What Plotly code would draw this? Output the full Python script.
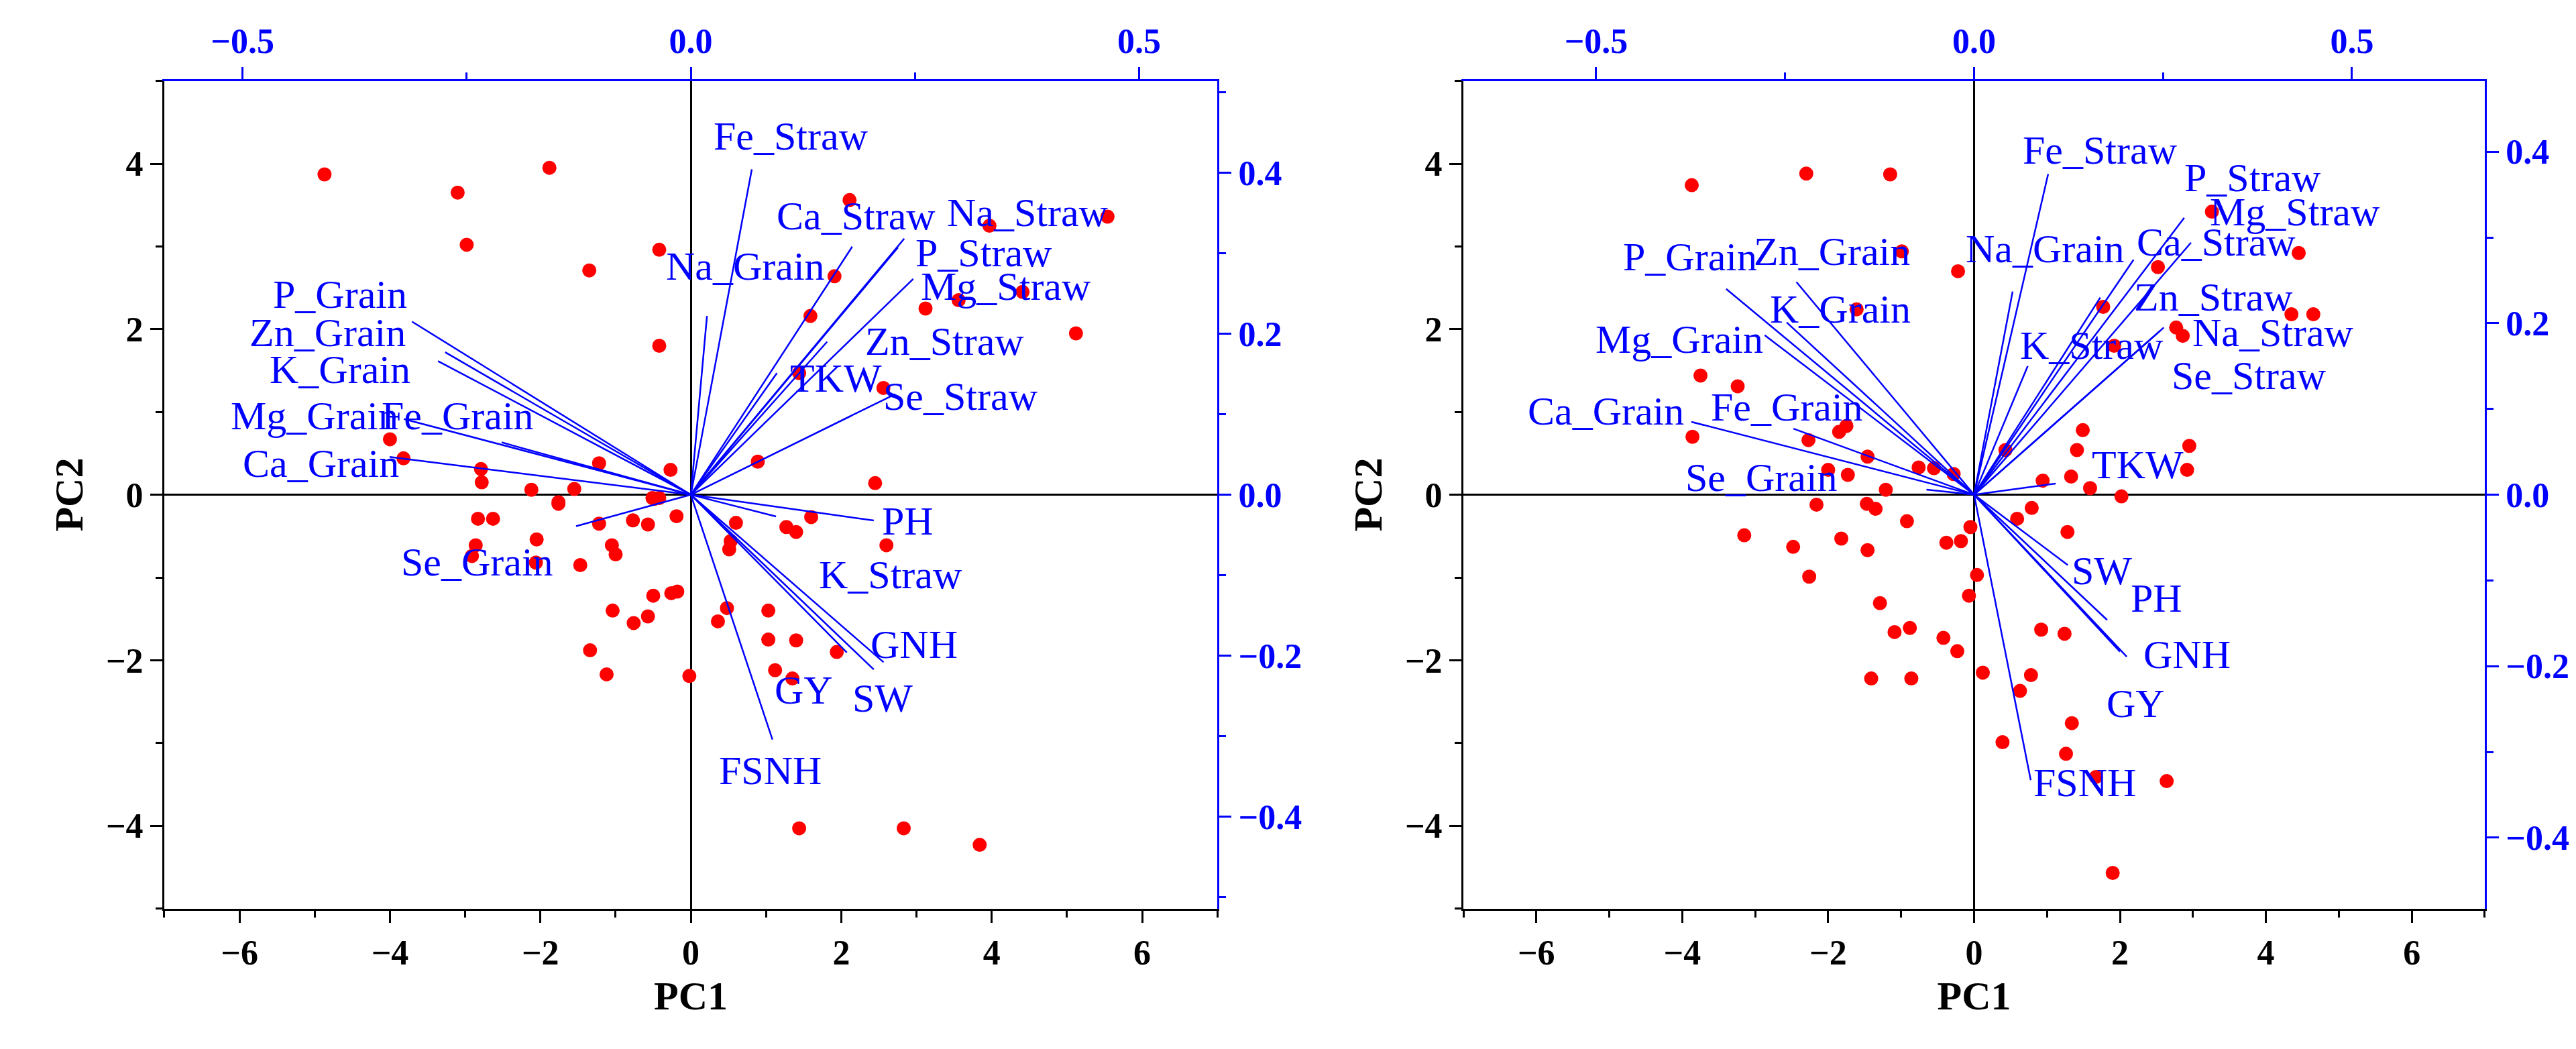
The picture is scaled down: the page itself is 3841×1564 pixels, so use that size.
import plotly.graph_objects as go

# ---- scores (PC1, PC2) ----
left_pc1 = [-4.87, -3.10, -1.88, -2.98, -1.35, -0.42, -0.42, -4.0, -3.82, -2.79, -2.78, -2.12, -1.55, -1.22,
            -0.27, -1.76, -0.51, -0.42, 2.11, 3.97, 5.54, 1.91, 1.59, 3.12, 3.56, 4.41, 5.12, 1.44, 2.56, 0.89,
            2.45, -2.83, -2.63, -1.76, -1.22, -0.77, -0.57, -0.19, -0.49, -2.05, -2.86, -2.91, -2.06, -1.47,
            -1.05, -1.00, -0.50, -0.26, -0.18, -1.04, -0.57, -0.76, -1.34, -1.12, -0.02, 0.60, 1.27, 1.40,
            1.60, 2.60, 0.53, 0.51, 0.48, 0.36, 1.03, 1.03, 1.40, 1.94, 1.12, 1.35, 1.44, 2.83, 3.84]
left_pc2 = [3.87, 3.65, 3.95, 3.02, 2.71, 2.96, 1.80, 0.67, 0.44, 0.31, 0.15, 0.06, 0.07, 0.38,
            0.30, -0.09, -0.04, -0.04, 3.56, 3.25, 3.36, 2.64, 2.16, 2.25, 2.35, 2.45, 1.95, 1.47, 1.29, 0.40,
            0.14, -0.29, -0.29, -0.11, -0.35, -0.31, -0.36, -0.26, -0.05, -0.54, -0.61, -0.74, -0.82, -0.85,
            -0.61, -0.72, -1.22, -1.19, -1.17, -1.40, -1.47, -1.55, -1.88, -2.17, -2.19, -0.34, -0.39, -0.45,
            -0.27, -0.61, -0.56, -0.66, -1.37, -1.53, -1.40, -1.75, -1.76, -1.90, -2.12, -2.22, -4.03, -4.03, -4.23]

right_pc1 = [-3.87, -2.30, -1.15, -0.99, -0.22, -1.61, -3.75, -3.24, -3.86, -1.75, -1.85, -2.27, -1.46, -2.0,
             -1.73, -0.76, -0.55, -0.28, -1.21, -2.16, -1.47, -1.35, -0.92, -0.05, -3.15, -2.48, -1.82, -1.46,
             -0.38, -0.18, -2.26, 0.04, -0.07, -1.29, -1.09, -0.88, -0.42, -0.23, 0.12, -1.41, -0.86, 0.39,
             0.59, 1.77, 2.52, 3.26, 4.45, 4.35, 4.65, 2.77, 2.86, 1.92, 1.49, 1.41, 2.95, 2.92, 0.94, 1.33,
             1.59, 2.02, 0.43, 0.79, 1.28, 0.92, 1.24, 0.78, 0.63, 1.34, 1.26, 1.67, 2.64, 1.90]
right_pc2 = [3.74, 3.88, 3.87, 2.94, 2.70, 2.24, 1.44, 1.31, 0.70, 0.83, 0.76, 0.66, 0.46, 0.30,
             0.24, 0.33, 0.32, 0.25, 0.06, -0.12, -0.11, -0.17, -0.32, -0.39, -0.49, -0.63, -0.53, -0.67,
             -0.58, -0.56, -0.99, -0.97, -1.22, -1.31, -1.66, -1.61, -1.73, -1.89, -2.15, -2.22, -2.22, -2.99,
             -0.29, 2.27, 2.75, 3.42, 2.92, 2.18, 2.18, 2.02, 1.92, 1.80, 0.78, 0.54, 0.59, 0.30, 0.17, 0.22,
             0.08, -0.02, 0.54, -0.16, -0.45, -1.63, -1.68, -2.18, -2.37, -2.76, -3.13, -3.41, -3.46, -4.57]

# ---- loadings ----
variables = ["P_Grain", "Zn_Grain", "K_Grain", "Mg_Grain", "Fe_Grain", "Ca_Grain", "Se_Grain",
             "Fe_Straw", "Na_Grain", "Ca_Straw", "Na_Straw", "P_Straw", "Mg_Straw", "Zn_Straw", "TKW",
             "Se_Straw", "PH", "K_Straw", "GNH", "SW", "GY", "FSNH"]
left_load1 = [-0.311, -0.274, -0.282, -0.320, -0.211, -0.336, -0.128, 0.068, 0.018, 0.180, 0.238, 0.231,
              0.248, 0.152, 0.096, 0.228, 0.204, 0.095, 0.215, 0.204, 0.174, 0.091]
left_load2 = [0.215, 0.177, 0.166, 0.094, 0.065, 0.047, -0.039, 0.404, 0.222, 0.308, 0.318, 0.307,
              0.268, 0.190, 0.151, 0.125, -0.032, -0.027, -0.208, -0.217, -0.196, -0.304]
right_load1 = [-0.328, -0.235, -0.248, -0.277, -0.239, -0.374, -0.063, 0.098, 0.051, 0.211, 0.251, 0.278,
               0.287, 0.167, 0.108, 0.246, 0.176, 0.071, 0.202, 0.124, 0.193, 0.075]
right_load2 = [0.240, 0.248, 0.201, 0.186, 0.077, 0.085, 0.006, 0.374, 0.237, 0.274, 0.195, 0.323,
               0.294, 0.230, 0.013, 0.191, -0.146, 0.150, -0.189, -0.082, -0.183, -0.333]

# label placement (PC units)
left_lab = {"P_Grain": (-4.66, 2.42), "Zn_Grain": (-4.83, 1.96), "K_Grain": (-4.66, 1.51),
            "Mg_Grain": (-5.0, 0.95), "Fe_Grain": (-3.1, 0.95), "Ca_Grain": (-4.92, 0.38),
            "Se_Grain": (-2.84, -0.81), "Fe_Straw": (1.33, 4.33), "Na_Grain": (0.73, 2.76),
            "Ca_Straw": (2.2, 3.37), "Na_Straw": (4.48, 3.41), "P_Straw": (3.9, 2.92),
            "Mg_Straw": (4.19, 2.52), "Zn_Straw": (3.37, 1.85), "TKW": (1.93, 1.41),
            "Se_Straw": (3.59, 1.19), "PH": (2.88, -0.32), "K_Straw": (2.66, -0.97),
            "GNH": (2.97, -1.81), "SW": (2.55, -2.46), "GY": (1.5, -2.36), "FSNH": (1.06, -3.33)}
right_lab = {"P_Grain": (-3.89, 2.87), "Zn_Grain": (-1.95, 2.94), "K_Grain": (-1.83, 2.24),
             "Mg_Grain": (-4.04, 1.88), "Ca_Grain": (-5.05, 1.01), "Fe_Grain": (-2.56, 1.06),
             "Se_Grain": (-2.91, 0.21), "Fe_Straw": (1.73, 4.16), "Na_Grain": (0.97, 2.97),
             "P_Straw": (3.82, 3.83), "Mg_Straw": (4.40, 3.42), "Ca_Straw": (3.32, 3.05),
             "Zn_Straw": (3.28, 2.39), "Na_Straw": (4.10, 1.96), "Se_Straw": (3.77, 1.44),
             "K_Straw": (1.61, 1.80), "TKW": (2.24, 0.36), "SW": (1.75, -0.92), "PH": (2.50, -1.25),
             "GNH": (2.92, -1.93), "GY": (2.22, -2.52), "FSNH": (1.52, -3.48)}

FONT = "Liberation Serif"
BLUE = "#0000ff"
fig = go.Figure()


def vec_xy(l1, l2):
    xs, ys = [], []
    for a, b in zip(l1, l2):
        xs += [0, a, None]
        ys += [0, b, None]
    return xs, ys


panels = [
    (left_pc1, left_pc2, left_load1, left_load2, left_lab, "x", "y", "x2", "y2"),
    (right_pc1, right_pc2, right_load1, right_load2, right_lab, "x3", "y3", "x4", "y4"),
]
for pc1, pc2, l1, l2, lab, xa, ya, xb, yb in panels:
    vx, vy = vec_xy(l1, l2)
    fig.add_trace(go.Scatter(x=vx, y=vy, mode="lines", line=dict(color=BLUE, width=2.5),
                             xaxis=xb, yaxis=yb, showlegend=False, hoverinfo="skip"))
    fig.add_trace(go.Scatter(x=pc1, y=pc2, mode="markers", marker=dict(color="red", size=21),
                             xaxis=xa, yaxis=ya, showlegend=False))
    for name in variables:
        lx, ly = lab[name]
        fig.add_annotation(x=lx, y=ly, xref=xa, yref=ya, text=name, showarrow=False,
                           font=dict(family=FONT, size=60, color=BLUE))

tickfont_k = dict(family=FONT, size=52, color="black", weight="bold")
tickfont_b = dict(family=FONT, size=52, color=BLUE, weight="bold")
doms = [[0.0617, 0.4705], [0.566, 0.9625]]
ydom = [0.139, 0.928]
xfac = [11.92, 10.36]
yfac = [9.73, 10.36]

for i in range(2):
    n = 2 * i + 1
    sx = "" if n == 1 else str(n)
    sb = str(n + 1)
    common_k = dict(showline=True, linecolor="black", linewidth=3, ticks="outside", ticklen=18,
                    tickwidth=3, tickcolor="black", showgrid=False, zeroline=True,
                    zerolinecolor="black", zerolinewidth=3, tickfont=tickfont_k,
                    minor=dict(ticks="outside", ticklen=10, tickwidth=3, dtick=1, tickcolor="black"))
    fig.layout["xaxis" + sx] = dict(common_k, domain=doms[i], range=[-7, 7], dtick=2,
                                    anchor="y" + sx, tickformat="d",
                                    title=dict(text="<b>PC1</b>", font=dict(family=FONT, size=60)))
    fig.layout["yaxis" + sx] = dict(common_k, domain=ydom, range=[-5, 5], dtick=2,
                                    anchor="x" + sx,
                                    title=dict(text="<b>PC2</b>", font=dict(family=FONT, size=60)))
    common_b = dict(showline=True, linecolor=BLUE, linewidth=3, ticks="outside", ticklen=18,
                    tickwidth=3, tickcolor=BLUE, showgrid=False, zeroline=False, tickfont=tickfont_b,
                    tickformat=".1f")
    xr = 7 / xfac[i]
    yr = 5 / yfac[i]
    fig.layout["xaxis" + sb] = dict(common_b, domain=doms[i], range=[-xr, xr], side="top",
                                    overlaying="x" + sx, anchor="y" + sx, dtick=0.5,
                                    minor=dict(ticks="outside", ticklen=10, tickwidth=3,
                                               dtick=0.25, tickcolor=BLUE))
    fig.layout["yaxis" + sb] = dict(common_b, domain=ydom, range=[-yr, yr], side="right",
                                    overlaying="y" + sx, anchor="x" + sx, dtick=0.2,
                                    minor=dict(ticks="outside", ticklen=10, tickwidth=3,
                                               dtick=0.1, tickcolor=BLUE))

fig.update_layout(width=3841, height=1564, margin=dict(l=0, r=0, t=0, b=0),
                  plot_bgcolor="white", paper_bgcolor="white",
                  font=dict(family=FONT, color="black"))

fig.write_html("out.html")
